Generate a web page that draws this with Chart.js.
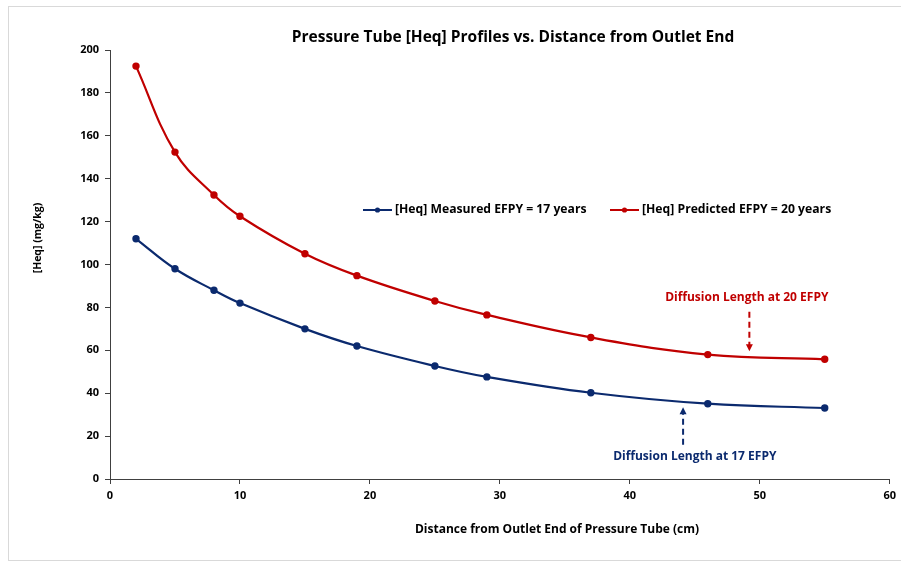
<!DOCTYPE html>
<html>
<head>
<meta charset="utf-8">
<script src="https://cdn.jsdelivr.net/npm/chart.js@4.4.1/dist/chart.umd.min.js"></script>
<style>
  html, body { margin: 0; padding: 0; background: #fff; }
  #wrap { position: relative; width: 901px; height: 564px; overflow: hidden; }
  #frame { position: absolute; left: 8px; top: 6px; width: 910px; height: 555px; border: 1px solid #d9d9d9; box-sizing: border-box; }
  canvas { position: absolute; left: 0; top: 0; }
</style>
</head>
<body>
<div id="wrap">
  <div id="frame"></div>
  <canvas id="c" width="901" height="564"></canvas>
</div>
<script>
// Distance from outlet end (cm)
const distance = [2, 5, 8, 10, 15, 19, 25, 29, 37, 46, 55];
// [Heq] measured at 17 EFPY (mg/kg)
const measured17 = [112, 98, 88, 82, 70, 62, 52.7, 47.6, 40.2, 35.1, 33.1];
// [Heq] predicted at 20 EFPY (mg/kg)
const predicted20 = [192.5, 152.4, 132.4, 122.5, 105, 94.8, 83, 76.5, 66, 58, 55.8];

const seriesNames = ['[Heq] Measured EFPY = 17 years', '[Heq] Predicted EFPY = 20 years'];
const chartTitle = 'Pressure Tube [Heq] Profiles vs. Distance from Outlet End';
const xTitle = 'Distance from Outlet End of Pressure Tube (cm)';
const yTitle = '[Heq] (mg/kg)';
const xTicks = [0, 10, 20, 30, 40, 50, 60];
const yTicks = [0, 20, 40, 60, 80, 100, 120, 140, 160, 180, 200];

// Diffusion-length markers: label, x position, arrow start/end values
const diffLabels = ['Diffusion Length at 17 EFPY', 'Diffusion Length at 20 EFPY'];
const diffX = [44.1, 49.2];
const diffArrowFrom = [16, 78];
const diffArrowTo = [33.5, 59.5];
const diffLabelX = [45, 49];
const diffLabelY = [10.3, 84.8];

const BLUE = '#0b2a6e';
const RED = '#c00000';
const FONT = '"Open Sans", Lato, sans-serif';

const toPoints = (ys) => distance.map((x, i) => ({ x, y: ys[i] }));

const decorations = {
  id: 'decorations',
  afterDraw(chart) {
    const { ctx, scales: { x, y } } = chart;
    ctx.save();
    // Title
    ctx.fillStyle = '#000';
    ctx.font = 'bold 15.5px ' + FONT;
    ctx.textAlign = 'center';
    ctx.textBaseline = 'middle';
    ctx.fillText(chartTitle, 513, 38);
    // Axis titles
    ctx.font = 'bold 12px ' + FONT;
    ctx.fillText(xTitle, 557, 530);
    ctx.save();
    ctx.translate(38, 238);
    ctx.rotate(-Math.PI / 2);
    ctx.font = 'bold 10.5px ' + FONT;
    ctx.fillText(yTitle, 0, 0);
    ctx.restore();

    // Legend inside the plot
    const legendY = y.getPixelForValue(125.4);
    const items = [
      { x0: 363, color: BLUE, text: seriesNames[0] },
      { x0: 610, color: RED, text: seriesNames[1] }
    ];
    ctx.font = 'bold 12.2px ' + FONT;
    ctx.textAlign = 'left';
    items.forEach(it => {
      ctx.strokeStyle = it.color;
      ctx.lineWidth = 2;
      ctx.beginPath();
      ctx.moveTo(it.x0, legendY);
      ctx.lineTo(it.x0 + 29, legendY);
      ctx.stroke();
      ctx.fillStyle = it.color;
      ctx.beginPath();
      ctx.arc(it.x0 + 14.5, legendY, 2.6, 0, Math.PI * 2);
      ctx.fill();
      ctx.fillStyle = '#000';
      ctx.fillText(it.text, it.x0 + 32, legendY);
    });

    // Diffusion length arrows and labels
    const colors = [BLUE, RED];
    diffLabels.forEach((label, i) => {
      const px = x.getPixelForValue(diffX[i]);
      const p0 = y.getPixelForValue(diffArrowFrom[i]);
      const p1 = y.getPixelForValue(diffArrowTo[i]);
      const dir = Math.sign(p1 - p0);
      ctx.strokeStyle = colors[i];
      ctx.fillStyle = colors[i];
      ctx.lineWidth = 2;
      ctx.setLineDash([6, 4]);
      ctx.beginPath();
      ctx.moveTo(px, p0);
      ctx.lineTo(px, p1 - dir * 6);
      ctx.stroke();
      ctx.setLineDash([]);
      ctx.beginPath();
      ctx.moveTo(px, p1);
      ctx.lineTo(px - 3.5, p1 - dir * 7);
      ctx.lineTo(px + 3.5, p1 - dir * 7);
      ctx.closePath();
      ctx.fill();
      ctx.font = 'bold 12px ' + FONT;
      ctx.textAlign = 'center';
      ctx.fillText(label, x.getPixelForValue(diffLabelX[i]), y.getPixelForValue(diffLabelY[i]));
    });
    ctx.restore();
  }
};

new Chart(document.getElementById('c'), {
  type: 'line',
  data: {
    datasets: [
      {
        label: seriesNames[0],
        data: toPoints(measured17),
        borderColor: BLUE,
        backgroundColor: BLUE,
        borderWidth: 2.2,
        pointRadius: 2.6,
        pointHoverRadius: 2.6,
        tension: 0.4
      },
      {
        label: seriesNames[1],
        data: toPoints(predicted20),
        borderColor: RED,
        backgroundColor: RED,
        borderWidth: 2.2,
        pointRadius: 2.6,
        pointHoverRadius: 2.6,
        tension: 0.4
      }
    ]
  },
  options: {
    responsive: false,
    animation: false,
    events: [],
    layout: { padding: { left: 0, top: 50, right: 10, bottom: 0 } },
    plugins: {
      legend: { display: false },
      title: { display: false },
      tooltip: { enabled: false }
    },
    scales: {
      x: {
        type: 'linear',
        min: 0,
        max: 60,
        afterBuildTicks: (s) => { s.ticks = xTicks.map(v => ({ value: v })); },
        afterFit: (s) => { s.height = 85; },
        border: { color: '#404040', width: 1 },
        grid: { drawOnChartArea: false, tickLength: 5, color: '#404040' },
        ticks: { color: '#000', font: { family: FONT, size: 11, weight: 'bold' }, padding: 5 }
      },
      y: {
        type: 'linear',
        min: 0,
        max: 200,
        afterBuildTicks: (s) => { s.ticks = yTicks.map(v => ({ value: v })); },
        afterFit: (s) => { s.width = 110; },
        border: { color: '#404040', width: 1 },
        grid: { drawOnChartArea: false, tickLength: 5, color: '#404040' },
        ticks: { color: '#000', font: { family: FONT, size: 11, weight: 'bold' }, padding: 6 }
      }
    }
  },
  plugins: [decorations]
});
</script>
</body>
</html>
